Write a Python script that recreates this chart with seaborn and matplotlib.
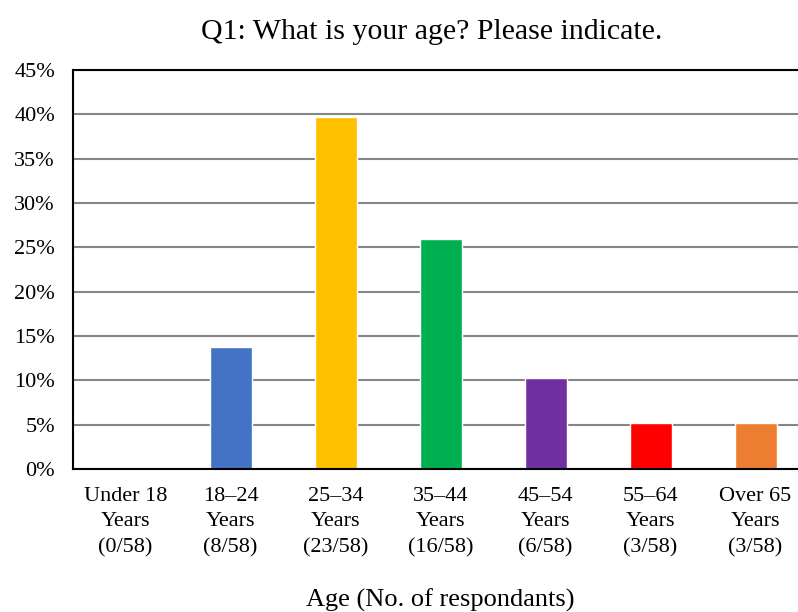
import matplotlib.pyplot as plt
import pandas as pd
import seaborn as sns
from matplotlib.ticker import PercentFormatter

# Data
categories = ['Under 18\nYears\n(0/58)', '18\u201324\nYears\n(8/58)', '25\u201334\nYears\n(23/58)',
              '35\u201344\nYears\n(16/58)', '45\u201354\nYears\n(6/58)', '55\u201364\nYears\n(3/58)',
              'Over 65\nYears\n(3/58)']
shares = [0.0, 13.8, 39.7, 25.9, 10.3, 5.2, 5.2]
colors = ['#4472C4', '#4472C4', '#FFC000', '#00B050', '#7030A0', '#FF0000', '#ED7D31']

df = pd.DataFrame({'Age': categories, 'Share': shares})

sns.set_style('white')
plt.rcParams['font.family'] = ['Liberation Serif', 'DejaVu Serif']
plt.rcParams['text.color'] = 'black'

fig = plt.figure(figsize=(7.98, 6.12), dpi=100)
ax = fig.add_axes([73 / 798, 1 - 469 / 612, (808 - 73) / 798, (469 - 70) / 612])

sns.barplot(data=df, x='Age', y='Share', hue='Age', palette=colors,
            width=0.4, legend=False, ax=ax, saturation=1)

ax.set_ylim(0, 45)
ax.set_yticks(range(0, 50, 5))
ax.yaxis.set_major_formatter(PercentFormatter(decimals=0))
ax.set_xticks(range(len(categories)))
ax.set_xticklabels(categories, linespacing=1.45)
ax.set_xlim(-0.5, 6.5)
ax.grid(axis='y', color='#868686', linewidth=1.5)
ax.set_axisbelow(True)

for side in ['left', 'bottom', 'top']:
    ax.spines[side].set_color('black')
    ax.spines[side].set_linewidth(1.5)
ax.spines['right'].set_visible(False)

ax.tick_params(axis='both', length=0, labelsize=16, colors='black')
ax.tick_params(axis='y', pad=13)
ax.tick_params(axis='x', pad=13)
ax.set_ylabel('')
ax.set_xlabel('Age (No. of respondants)', fontsize=19, labelpad=23, color='black')
ax.set_title('Q1: What is your age? Please indicate.', fontsize=21.5, pad=22,
             color='black', x=0.488)

fig.savefig('out.png', dpi=100)
